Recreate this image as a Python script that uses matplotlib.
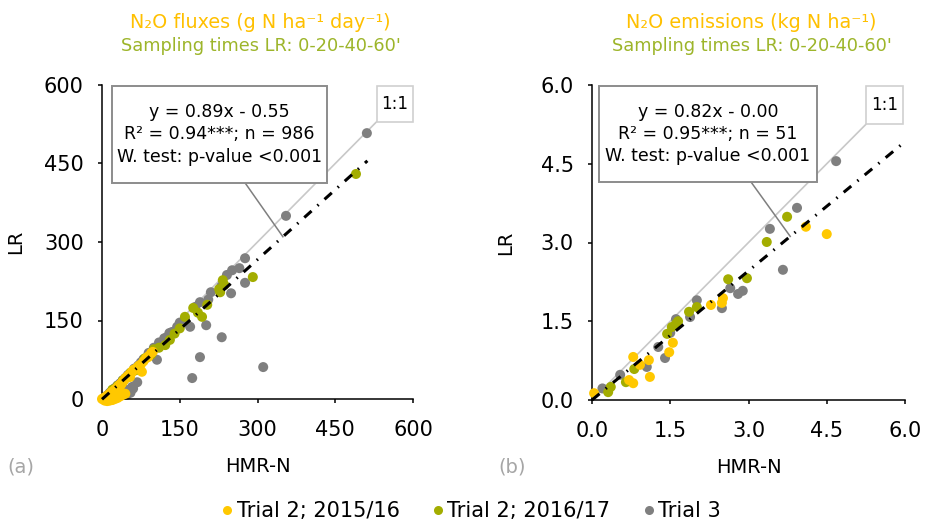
import matplotlib
matplotlib.use("Agg")
import matplotlib.pyplot as plt
from matplotlib.patches import Rectangle
from matplotlib.lines import Line2D

plt.rcParams['font.family'] = ['DejaVu Sans']

# ---- series ----
series_labels = ["Trial 2; 2015/16", "Trial 2; 2016/17", "Trial 3"]
series_colors = ["#FFC800", "#A3AD00", "#7F7F7F"]

# (a) N2O fluxes, HMR-N (x) vs LR (y)
a_t2_1516_x = [98, 89, 77, 60, 54, 39, 0, 2, 3, 5, 6, 8, 10, 12, 14, 15, 17, 18, 20, 22, 24, 25, 27, 28,
               30, 32, 33, 35, 36, 38, 40, 42, 44, 46, 48, 50, 52, 55, 57, 58, 62, 65, 68, 70, 72, 75,
               80, 85, 90, 95, 5, 8, 10, 15, 20, 25, 30, 35, 40, 45, 12, 18, 22, 28]
a_t2_1516_y = [90, 80, 52, 55, 42, 31, 0, 1, 0, 3, 1, 4, 6, 8, 9, 5, 12, 10, 14, 15, 17, 10, 20, 18,
               22, 25, 20, 28, 26, 30, 33, 35, 38, 40, 42, 44, 46, 48, 50, 52, 56, 58, 60, 62, 64, 66,
               72, 78, 82, 88, -3, -2, -4, -3, -2, 0, 2, 5, 8, 10, 2, 4, 6, 8]

a_t2_1617_x = [490, 291, 233, 228, 176, 203, 193, 160, 131, 122, 83, 100, 95, 70, 65, 55, 45, 40, 30, 20,
               110, 140, 150, 226, 236, 185]
a_t2_1617_y = [430, 233, 227, 204, 174, 180, 157, 157, 113, 103, 78, 95, 85, 62, 55, 50, 40, 35, 25, 18,
               98, 125, 135, 210, 218, 165]

a_t3_x = [511, 355, 276, 251, 241, 276, 249, 210, 189, 205, 201, 170, 145, 135, 125, 116, 231, 189, 174,
          311, 106, 68, 58, 39, 100, 90, 80, 75, 70, 62, 55, 50, 45, 40, 35, 30, 25, 20, 15, 10,
          50, 55, 48, 60, 45, 110, 120, 130, 150, 160, 180, 230, 265]
a_t3_y = [508, 350, 269, 246, 237, 222, 202, 204, 185, 190, 141, 138, 138, 128, 118, 107, 118, 80, 40,
          61, 75, 32, 23, 11, 98, 88, 76, 70, 64, 58, 50, 46, 40, 36, 30, 26, 21, 16, 12, 7,
          15, 12, 8, 20, 18, 108, 116, 126, 146, 152, 176, 215, 250]

# (b) N2O emissions
b_t2_1516_x = [4.10, 4.50, 2.51, 2.49, 2.28, 1.55, 1.48, 1.09, 0.79, 0.92, 1.11, 0.71, 0.79, 0.04]
b_t2_1516_y = [3.30, 3.16, 1.94, 1.85, 1.81, 1.09, 0.91, 0.76, 0.82, 0.67, 0.44, 0.38, 0.32, 0.13]

b_t2_1617_x = [3.74, 3.35, 2.61, 2.97, 2.01, 1.86, 1.61, 1.53, 1.44, 0.81, 0.65, 0.36, 0.31, 1.65]
b_t2_1617_y = [3.49, 3.01, 2.30, 2.32, 1.77, 1.68, 1.45, 1.39, 1.26, 0.59, 0.34, 0.25, 0.15, 1.50]

b_t3_x = [4.68, 3.93, 3.41, 3.66, 2.65, 2.89, 2.80, 2.49, 2.01, 1.88, 1.61, 1.50, 1.27, 1.40, 1.05, 0.54, 0.20]
b_t3_y = [4.55, 3.66, 3.26, 2.48, 2.13, 2.08, 2.02, 1.75, 1.90, 1.58, 1.54, 1.28, 1.01, 0.80, 0.63, 0.48, 0.22]

# regression fits
a_slope, a_intercept, a_fit_range = 0.89, -0.55, (0, 512)
b_slope, b_intercept, b_fit_range = 0.82, -0.00, (0, 6.0)

a_ticks = [0, 150, 300, 450, 600]
b_ticks = [0.0, 1.5, 3.0, 4.5, 6.0]
b_tick_labels = ["0.0", "1.5", "3.0", "4.5", "6.0"]

a_stats = "y = 0.89x - 0.55\nR\u00b2 = 0.94***; n = 986\nW. test: p-value <0.001"
b_stats = "y = 0.82x - 0.00\nR\u00b2 = 0.95***; n = 51\nW. test: p-value <0.001"

title_a = "N\u2082O fluxes (g N ha\u207b\u00b9 day\u207b\u00b9)"
title_b = "N\u2082O emissions (kg N ha\u207b\u00b9)"
subtitle = "Sampling times LR: 0-20-40-60'"

W, H = 925, 524
fig = plt.figure(figsize=(W / 100, H / 100), dpi=100)

ax_a = fig.add_axes([102 / W, 1 - 399 / H, 311 / W, 314 / H])
ax_b = fig.add_axes([592 / W, 1 - 400 / H, 313 / W, 315 / H])


def style_axes(ax, ticks, labels):
    ax.set_xlim(ticks[0], ticks[-1])
    ax.set_ylim(ticks[0], ticks[-1])
    ax.set_xticks(ticks)
    ax.set_yticks(ticks)
    ax.set_xticklabels(labels)
    ax.set_yticklabels(labels)
    for s in ("top", "right"):
        ax.spines[s].set_visible(False)
    for s in ("left", "bottom"):
        ax.spines[s].set_linewidth(1.1)
        ax.spines[s].set_color("black")
    ax.tick_params(direction="out", length=3.2, width=1.1, labelsize=15, color="black")
    ax.tick_params(axis="x", pad=12)
    ax.tick_params(axis="y", pad=10)
    ax.set_xlabel("HMR-N", fontsize=14)
    ax.set_ylabel("LR", fontsize=14)
    ax.xaxis.set_label_coords(0.5, -0.185)
    ax.yaxis.set_label_coords(-0.247, 0.5)


def draw_panel(ax, series, slope, intercept, fit_range, one_end, box_1to1,
               stats_text, stats_box, leader):
    # 1:1 line up to its label box
    ax.plot([0, one_end], [0, one_end], color="#C8C8C8", lw=1.2, zorder=1, clip_on=False)
    bx0, by0, bx1, by1 = box_1to1
    ax.add_patch(Rectangle((bx0, by0), bx1 - bx0, by1 - by0, fc="white", ec="#D0D0D0",
                           lw=1.2, zorder=6, clip_on=False))
    ax.text((bx0 + bx1) / 2, (by0 + by1) / 2, "1:1", ha="center", va="center",
            fontsize=12, zorder=7)
    # scatter: Trial 3 at the back, 2015/16 on top
    for i in (2, 1, 0):
        ax.scatter(series[i][0], series[i][1], s=52, color=series_colors[i], edgecolors="none",
                   zorder=2 + (2 - i), clip_on=False)
    # regression line
    fx = list(fit_range)
    fy = [slope * v + intercept for v in fx]
    ax.plot(fx, fy, color="black", lw=2.2, linestyle=(0, (3.2, 2.6, 0.5, 2.6)),
            zorder=8, clip_on=False)
    # stats box + leader
    (lx0, ly0), (lx1, ly1) = leader
    ax.plot([lx0, lx1], [ly0, ly1], color="#7F7F7F", lw=1.1, zorder=9, clip_on=False)
    sx0, sy0, sx1, sy1 = stats_box
    ax.add_patch(Rectangle((sx0, sy0), sx1 - sx0, sy1 - sy0, fc="white", ec="#8C8C8C",
                           lw=1.4, zorder=10, clip_on=False))
    ax.text((sx0 + sx1) / 2, (sy0 + sy1) / 2, stats_text, ha="center", va="center",
            fontsize=12.5, linespacing=1.3, zorder=11)


style_axes(ax_a, a_ticks, [str(t) for t in a_ticks])
style_axes(ax_b, b_ticks, b_tick_labels)

draw_panel(ax_a,
           [(a_t2_1516_x, a_t2_1516_y), (a_t2_1617_x, a_t2_1617_y), (a_t3_x, a_t3_y)],
           a_slope, a_intercept, a_fit_range, 530, (530, 530, 600, 598),
           a_stats, (19, 413, 434, 598), ((276, 413), (349, a_slope * 349 + a_intercept)))
draw_panel(ax_b,
           [(b_t2_1516_x, b_t2_1516_y), (b_t2_1617_x, b_t2_1617_y), (b_t3_x, b_t3_y)],
           b_slope, b_intercept, b_fit_range, 5.25, (5.25, 5.25, 5.96, 5.98),
           b_stats, (0.13, 4.15, 4.31, 5.98), ((3.05, 4.15), (3.80, b_slope * 3.80 + b_intercept)))

# titles
for ax, t in ((ax_a, title_a), (ax_b, title_b)):
    pos = ax.get_position()
    cx = (pos.x0 + pos.x1) / 2 + 3 / W
    fig.text(cx, 1 - 22 / H, t, ha="center", va="center", fontsize=13.8, color="#FFC000")
    fig.text(cx, 1 - 46 / H, subtitle, ha="center", va="center", fontsize=12.8, color="#9DB52A")

fig.text(21 / W, 1 - 467 / H, "(a)", ha="center", va="center", fontsize=14, color="#A6A6A6")
fig.text(512 / W, 1 - 467 / H, "(b)", ha="center", va="center", fontsize=14, color="#A6A6A6")

handles = [Line2D([], [], marker="o", linestyle="none", markersize=6.5, color=c,
                  markeredgewidth=0) for c in series_colors]
fig.legend(handles, series_labels, loc="center", bbox_to_anchor=(471 / W, 1 - 511 / H),
           ncol=3, frameon=False, fontsize=15, handletextpad=0.15, columnspacing=1.55,
           handlelength=0.6, borderaxespad=0, borderpad=0)

fig.savefig("out.png", dpi=100)
